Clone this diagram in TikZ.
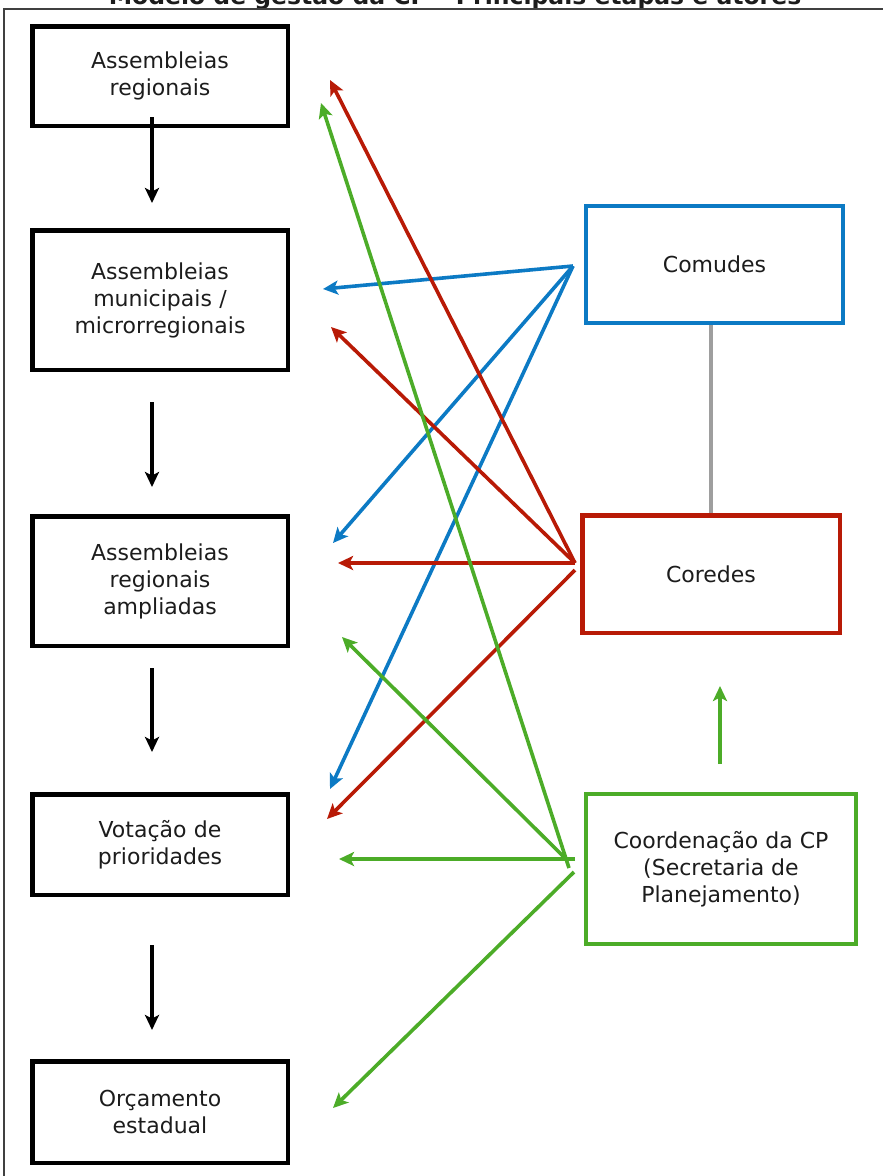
\documentclass[tikz,border=0pt]{standalone}
\usepackage{fontspec}
\setmainfont{DejaVu Sans}
\usepackage{tikz}
\usetikzlibrary{arrows.meta}
\usetikzlibrary{positioning, calc}
\usepackage{xcolor}
\definecolor{cpblue}{RGB}{12,122,196}
\definecolor{cpred}{RGB}{184,26,6}
\definecolor{cpgreen}{RGB}{76,172,40}
\definecolor{cptext}{RGB}{28,28,28}
\definecolor{cpgray}{RGB}{158,158,158}

\begin{document}
\begin{tikzpicture}[>={Stealth[length=15pt, width=14pt, inset=3.5pt]}, x=1pt, y=-1pt,
    etapa/.style={draw=black, line width=4.5pt, minimum width=255.5pt, text width=240pt, align=center, text=cptext, font=\fontsize{22}{27}\selectfont},
    ator/.style={line width=4pt, align=center, text=cptext, font=\fontsize{22}{27}\selectfont},
    seta/.style={->, line width=3.6pt}]
    \useasboundingbox (0, 0) rectangle (883, 1176);

    \node[font=\fontsize{23.5}{28}\selectfont\bfseries, anchor=base, text=cptext] (titulo) at (455, 4) {Modelo de gestão da CP – Principais etapas e atores};
    \draw[line width=1.8pt, black!75] (4, 1180) -- (4, 9) -- (890, 9);

    \node[etapa, minimum height=99.5pt] (a1) at (160, 76) {Assembleias\\regionais};
    \node[etapa, minimum height=139.5pt] (a2) at (160, 300) {Assembleias\\municipais /\\microrregionais};
    \node[etapa, minimum height=129.5pt] (a3) at (160, 581) {Assembleias\\regionais\\ampliadas};
    \node[etapa, minimum height=100.5pt] (a4) at (160, 844.5) {Votação de\\prioridades};
    \node[etapa, minimum height=101.5pt] (a5) at (160, 1112) {Orçamento\\estadual};

    \node[ator, draw=cpblue, minimum width=257pt, minimum height=117pt] (comudes) at (714.5, 264.5) {Comudes};
    \node[ator, draw=cpred, line width=4.5pt, minimum width=257.5pt, minimum height=117.5pt] (coredes) at (711, 574) {Coredes};
    \node[ator, draw=cpgreen, minimum width=270pt, minimum height=150pt] (cp) at (721, 869) {Coordenação da CP\\(Secretaria de\\Planejamento)};

    \draw[seta, line width=3.8pt] ($(a1.south)+(-8, -11)$) -- ($(a2.north)+(-8, -25)$);
    \draw[seta, line width=3.8pt] ($(a2.south)+(-8, 30)$) -- ($(a3.north)+(-8, -27)$);
    \draw[seta, line width=3.8pt] ($(a3.south)+(-8, 20)$) -- ($(a4.north)+(-8, -40)$);
    \draw[seta, line width=3.8pt] ($(a4.south)+(-8, 48)$) -- ($(a5.north)+(-8, -29)$);

    \draw[cpgray, line width=3.6pt] (comudes.south -| coredes.north) -- (coredes.north);
    \draw[seta, cpgreen] ($(cp.north)+(-1, -28)$) -- ($(coredes.south)+(9, 51)$);

    \draw[seta, cpblue] ($(comudes.west)+(-11, 1.5)$) -- ($(a2.east)+(33, -11)$);
    \draw[seta, cpblue] ($(comudes.west)+(-11, 1.5)$) -- ($(a3.east)+(43, -38)$);
    \draw[seta, cpblue] ($(comudes.west)+(-11, 1.5)$) -- ($(a4.east)+(40, -55.5)$);

    \draw[seta, cpred] ($(coredes.west)+(-5, -11)$) -- ($(a1.east)+(40, 4)$);
    \draw[seta, cpred] ($(coredes.west)+(-5, -11)$) -- ($(a2.east)+(41, 27)$);
    \draw[seta, cpred] ($(coredes.west)+(-5, -11)$) -- ($(a3.east)+(48, -18)$);
    \draw[seta, cpred] ($(coredes.west)+(-5, -4)$) -- ($(a4.east)+(37, -25.5)$);

    \draw[seta, cpgreen] ($(cp.west)+(-15, -1)$) -- ($(a1.east)+(31, 27)$);
    \draw[seta, cpgreen] ($(cp.west)+(-17, -9)$) -- ($(a3.east)+(52, 56)$);
    \draw[seta, cpgreen] ($(cp.west)+(-9, -10)$) -- ($(a4.east)+(49, 14.5)$);
    \draw[seta, cpgreen] ($(cp.west)+(-10, 3)$) -- ($(a5.east)+(43, -4)$);
  \end{tikzpicture}
\end{document}
